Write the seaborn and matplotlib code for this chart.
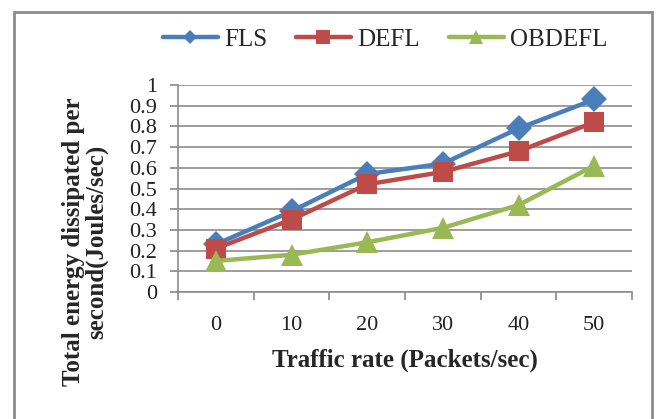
import matplotlib
matplotlib.use("Agg")
import matplotlib.pyplot as plt
from matplotlib.patches import Rectangle
from matplotlib.ticker import MultipleLocator, FixedLocator
import numpy as np
import pandas as pd
import seaborn as sns

# Energy dissipation per traffic rate for each scheme
traffic_rate = [0, 10, 20, 30, 40, 50]
fls = [0.23, 0.39, 0.57, 0.62, 0.79, 0.93]
defl = [0.21, 0.35, 0.52, 0.58, 0.68, 0.82]
obdefl = [0.15, 0.18, 0.24, 0.31, 0.42, 0.61]
series_names = ["FLS", "DEFL", "OBDEFL"]
y_ticks = [0, 0.1, 0.2, 0.3, 0.4, 0.5, 0.6, 0.7, 0.8, 0.9, 1]
y_tick_labels = ["0", "0.1", "0.2", "0.3", "0.4", "0.5", "0.6", "0.7", "0.8", "0.9", "1"]

df = pd.DataFrame({
    "rate": traffic_rate * 3,
    "energy": fls + defl + obdefl,
    "scheme": [n for n in series_names for _ in traffic_rate],
})

sns.set_theme(style="white")
plt.rcParams["font.family"] = ["Liberation Serif", "DejaVu Serif"]

palette = {"FLS": "#4A7EBB", "DEFL": "#BE4B48", "OBDEFL": "#98B954"}
markers = {"FLS": "D", "DEFL": "s", "OBDEFL": "^"}
msizes = {"FLS": 13.5, "DEFL": 14.5, "OBDEFL": 16.5}
legend_msizes = {"FLS": 7.5, "DEFL": 9.5, "OBDEFL": 9.5}

fig = plt.figure(figsize=(6.58, 4.19), dpi=100)
ax = fig.add_axes([178 / 658, 1 - 292 / 419, (632 - 178) / 658, (292 - 85) / 419])

sns.lineplot(data=df, x="rate", y="energy", hue="scheme", style="scheme",
             palette=palette, markers=markers, dashes=False, linewidth=3.2,
             markersize=13, markeredgewidth=0, ax=ax, legend=False)
for line, name in zip(ax.lines, series_names):
    line.set_markersize(msizes[name])

ax.set_xlim(-5, 55)
ax.set_ylim(0, 1)
ax.xaxis.set_major_locator(FixedLocator(traffic_rate))
ax.set_xticklabels([str(v) for v in traffic_rate])
ax.xaxis.set_minor_locator(MultipleLocator(10, offset=5))
ax.tick_params(axis="x", which="major", length=0, labelsize=16, pad=17, colors="#222222")
ax.tick_params(axis="x", which="minor", length=6, width=1.2, color="#888888", direction="out", bottom=True)
ax.set_yticks(y_ticks)
ax.set_yticklabels(y_tick_labels)
ax.tick_params(axis="y", length=6, width=1.2, color="#888888", direction="out", left=True, labelsize=16,
               pad=9, labelcolor="#222222")
ax.yaxis.grid(True, color="#8C8C8C", linewidth=1.2)
ax.set_axisbelow(True)
for side in ["top", "right"]:
    ax.spines[side].set_visible(False)
for side in ["left", "bottom"]:
    ax.spines[side].set_color("#8C8C8C")
    ax.spines[side].set_linewidth(1.2)

ax.set_xlabel("Traffic rate (Packets/sec)", fontsize=18, fontweight="bold", labelpad=10)
ax.set_ylabel("")
fig.text(85 / 658, 1 - 242 / 419, "Total energy dissipated per\nsecond(Joules/sec)", fontsize=18,
         fontweight="bold", rotation=90, ha="center", va="center", multialignment="center",
         linespacing=1.0)

# Legend with line handles across the top
handles = [plt.Line2D([], [], color=palette[n], marker=markers[n], linewidth=3.2,
                      markersize=legend_msizes[n], markeredgewidth=0) for n in series_names]
fig.legend(handles, series_names, loc="center", bbox_to_anchor=(385 / 658, 1 - 40 / 419), ncol=3,
           frameon=False, fontsize=18, handlelength=2.2, handletextpad=0.25, columnspacing=1.15)

# Outer chart border
fig.patches.append(Rectangle((14 / 658, -0.02), (652 - 14) / 658, 1 - 12 / 419 + 0.02,
                             transform=fig.transFigure, fill=False, edgecolor="#8C8C8C",
                             linewidth=2))

fig.savefig("out.png", dpi=100)
